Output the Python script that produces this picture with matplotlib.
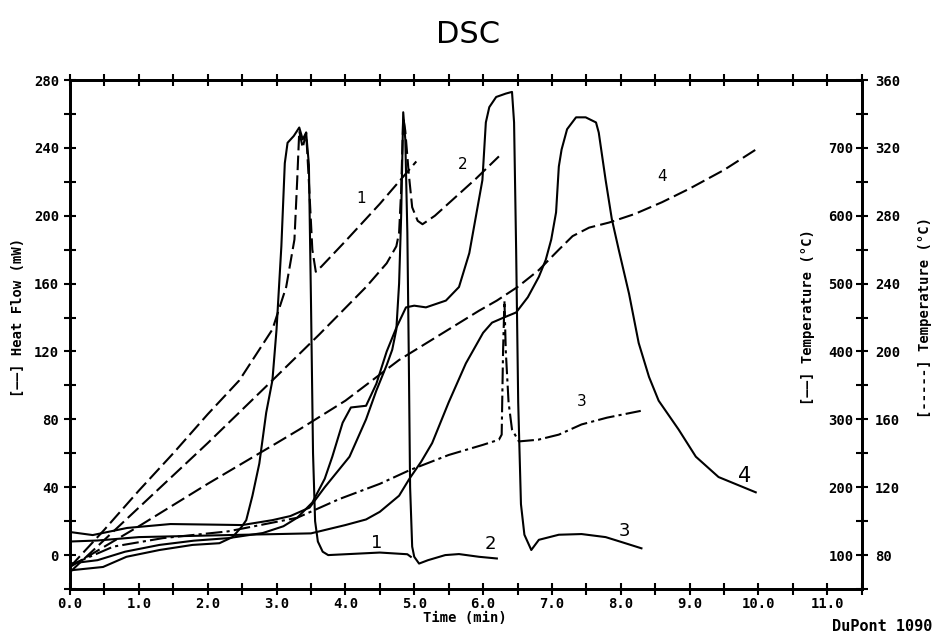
import matplotlib.pyplot as plt
from matplotlib.ticker import MultipleLocator, FixedLocator

# heat flow (mW) for the four runs
t_hf1 = [0, 0.48, 0.82, 1.3, 1.78, 2.17, 2.36, 2.49, 2.56, 2.65, 2.75, 2.85, 2.94, 3.0, 3.07,
         3.12, 3.16, 3.25, 3.33, 3.38, 3.43, 3.47, 3.5, 3.53, 3.56, 3.6, 3.67, 3.75, 4.0,
         4.5, 4.9, 4.95]
hf1 = [-9, -7, -1, 3, 6, 7, 10.6, 16.5, 20.6, 35, 54, 84, 103, 133, 182,
       231, 243, 247, 252, 245, 249, 230, 150, 60, 20, 8, 2, 0, 0.5,
       1.5, 0.5, -1]

t_hf2 = [0, 0.33, 0.83, 1.46, 2.0, 2.5, 2.94, 3.2, 3.48, 3.7, 4.06, 4.3, 4.45, 4.6, 4.68,
         4.74, 4.78, 4.81, 4.84, 4.87, 4.9, 4.92, 4.94, 4.97, 5.0, 5.07, 5.2, 5.45, 5.65,
         5.94, 6.2]
hf2 = [13.6, 11.8, 16, 18.3, 18, 17.7, 20.6, 23, 28, 40, 58, 80, 97, 112, 121,
       133, 160, 200, 261, 245, 190, 120, 40, 5, -1, -5, -3, 0, 0.6,
       -1, -2]

t_hf3 = [0, 0.4, 0.8, 1.3, 1.8, 2.3, 2.8, 3.1, 3.3, 3.52, 3.7, 3.81, 3.96, 4.08, 4.3,
         4.45, 4.6, 4.74, 4.88, 5.0, 5.17, 5.46, 5.65, 5.8, 5.99, 6.04, 6.09, 6.19, 6.33,
         6.42, 6.45, 6.48, 6.51, 6.55, 6.6, 6.7, 6.81, 7.1, 7.43, 7.78, 8.01, 8.3]
hf3 = [-5, -3, 2, 6, 8.5, 10, 13, 17, 22, 31, 45, 58, 78, 87, 88,
       101, 120, 134, 146, 147, 146, 150, 158, 178, 221, 255, 264, 270, 272,
       273, 255, 180, 90, 30, 12, 3, 9, 12, 12.4, 10.6, 7.7, 4]

t_hf4 = [0, 0.4, 1.0, 2.3, 3.5, 4.0, 4.3, 4.5, 4.78, 4.93, 5.1, 5.26, 5.5, 5.75, 6.0,
         6.13, 6.3, 6.48, 6.65, 6.81, 6.91, 6.99, 7.06, 7.10, 7.14, 7.22, 7.35, 7.49, 7.64,
         7.68, 7.78, 7.87, 7.97, 8.12, 8.26, 8.41, 8.55, 8.84, 9.09, 9.42, 9.96]
hf4 = [8, 8.6, 10.6, 11.8, 12.8, 17.7, 21, 25.5, 35, 45, 55, 66, 90, 113, 131,
       137, 140, 143, 152, 164, 174, 186, 202, 229, 239, 251, 258, 258, 255,
       249, 221, 198, 180, 154, 125, 105, 91, 74, 58, 46, 37]

# sample temperature (deg C, outer right scale)
t_tc1 = [0, 0.5, 1.0, 1.5, 2.0, 2.46, 2.94, 3.14, 3.26, 3.30, 3.33, 3.38, 3.43, 3.47, 3.52,
         3.57, 3.65, 4.0, 4.5, 5.03]
tc1 = [73, 95, 118, 140, 163, 183, 213, 238, 266, 301, 330, 320, 329, 300, 260,
       247, 250, 265, 287, 312]

t_tc2 = [0, 1, 2, 2.94, 3.62, 4.3, 4.6, 4.74, 4.78, 4.81, 4.84, 4.87, 4.92, 4.97, 5.05,
         5.12, 5.3, 5.6, 5.9, 6.23]
tc2 = [70, 108, 146, 183, 210, 238, 252, 262, 270, 295, 338, 330, 305, 285, 277,
       275, 280, 291, 302, 315]

t_tc3 = [0, 0.63, 1.35, 2.3, 3.3, 3.91, 4.5, 4.93, 5.5, 6.0, 6.23, 6.27, 6.29, 6.31, 6.33,
         6.37, 6.42, 6.52, 6.8, 7.1, 7.43, 7.8, 8.29]
tc3 = [74, 85, 90, 94, 102, 113, 122, 130, 139, 145, 148, 151, 200, 230, 200,
       170, 154, 147, 148, 151, 157, 161, 165]

t_tc4 = [0, 1, 2, 3, 3.33, 4, 4.78, 5.5, 5.94, 6.2, 6.5, 6.81, 7.1, 7.3, 7.54,
         7.83, 8.2, 8.6, 9.0, 9.5, 10.0]
tc4 = [73, 97, 122, 146, 154, 171, 195, 213, 224, 230, 238, 248, 260, 268, 273,
       276, 281, 288, 296, 307, 320]

hf_ticks = [0, 40, 80, 120, 160, 200, 240, 280]
temp1_ticks = [100, 200, 300, 400, 500, 600, 700]
temp2_ticks = [80, 120, 160, 200, 240, 280, 320, 360]

MONO = "DejaVu Sans Mono"
LW = 1.5

fig = plt.figure(figsize=(9.37, 6.35), dpi=100)
ax = fig.add_axes([0.0747, 0.0724, 0.845, 0.8016])

for tt, yy in [(t_hf1, hf1), (t_hf2, hf2), (t_hf3, hf3), (t_hf4, hf4)]:
    ax.plot(tt, yy, color="black", lw=LW, solid_joinstyle="round")

ax.set_xlim(0, 11.5)
ax.set_ylim(-20, 280)
ax.xaxis.set_minor_locator(MultipleLocator(0.5))
ax.set_xticks([i * 1.0 for i in range(12)])
ax.set_xticklabels(["%.1f" % v for v in range(12)])
ax.yaxis.set_major_locator(FixedLocator(hf_ticks))
ax.yaxis.set_minor_locator(MultipleLocator(20))
ax.tick_params(which="both", direction="inout", length=9, width=1.5,
               top=True, right=False, labelsize=10)
ax.tick_params(axis="x", pad=1)
for lbl in ax.get_xticklabels() + ax.get_yticklabels():
    lbl.set_fontfamily(MONO)
    lbl.set_fontweight("bold")
for sp in ax.spines.values():
    sp.set_linewidth(2)

# outer temperature scale (deg C) carries the temperature traces
ax2 = ax.twinx()
ax2.set_ylim(60, 360)
for tt, yy, ls in [(t_tc1, tc1, (0, (7, 2.5))), (t_tc2, tc2, (0, (7, 2.5))),
                   (t_tc3, tc3, (0, (8, 2, 1.5, 2))), (t_tc4, tc4, (0, (7, 2.5)))]:
    ax2.plot(tt, yy, color="black", lw=LW, linestyle=ls)
ax2.yaxis.set_major_locator(FixedLocator(temp2_ticks))
ax2.yaxis.set_minor_locator(MultipleLocator(20))
ax2.tick_params(which="both", direction="inout", length=9, width=1.5, labelsize=10, pad=5)
for lbl in ax2.get_yticklabels():
    lbl.set_fontfamily(MONO)
    lbl.set_fontweight("bold")
for sp in ax2.spines.values():
    sp.set_linewidth(2)

# inner temperature scale, labels sit inside the right spine
sec = ax.secondary_yaxis("right", functions=(lambda h: 100 + 2.5 * h, lambda c: (c - 100) / 2.5))
sec.set_yticks(temp1_ticks)
sec.tick_params(length=0, pad=-6, labelsize=10)
for lbl in sec.get_yticklabels():
    lbl.set_fontfamily(MONO)
    lbl.set_fontweight("bold")
    lbl.set_horizontalalignment("right")
sec.spines["right"].set_visible(False)

# curve numbers
for x, y, s in [(4.23, 206, "1"), (5.7, 226, "2"), (7.43, 86, "3"), (8.6, 219, "4")]:
    ax.text(x, y, s, fontsize=11, ha="center", va="bottom")
for x, y, s, fs in [(4.45, 2, "1", 13), (6.1, 1, "2", 13), (8.05, 9, "3", 13), (9.8, 41, "4", 15)]:
    ax.text(x, y, s, fontsize=fs, ha="center", va="bottom")

fig.text(0.5, 0.945, "DSC", fontsize=22, ha="center", va="center", family="DejaVu Sans")
fig.text(0.496, 0.026, "Time (min)", fontsize=10, ha="center", va="center",
         family=MONO, weight="bold")
fig.text(0.995, 0.014, "DuPont 1090", fontsize=11, ha="right", va="center",
         family=MONO, weight="bold")
fig.text(0.019, 0.5, "[\u2014\u2014] Heat Flow (mW)", fontsize=10, rotation=90,
         ha="center", va="center", family=MONO, weight="bold")
fig.text(0.862, 0.5, "[\u2014\u2014] Temperature (\u00b0C)", fontsize=10, rotation=90,
         ha="center", va="center", family=MONO, weight="bold")
fig.text(0.987, 0.5, "[-----] Temperature (\u00b0C)", fontsize=10, rotation=90,
         ha="center", va="center", family=MONO, weight="bold")

fig.savefig("out.png", dpi=100)
